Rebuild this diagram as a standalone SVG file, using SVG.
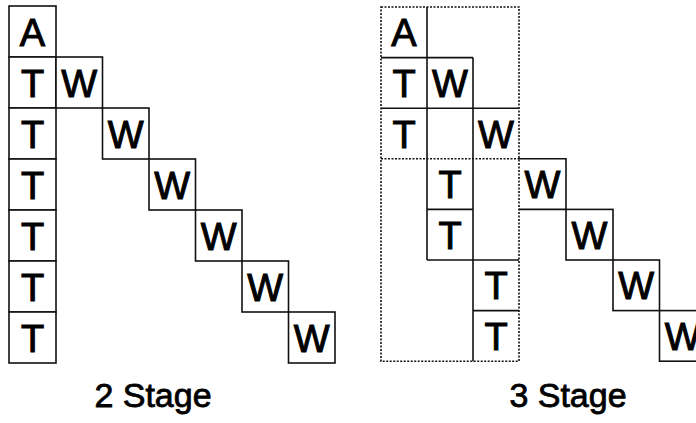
<svg xmlns="http://www.w3.org/2000/svg" width="696" height="423" viewBox="0 0 696 423">
<style>
.c{fill:#fff;stroke:#111;stroke-width:1.6}
.s{fill:none;stroke:#111;stroke-width:1.6}
.d{fill:none;stroke:#111;stroke-width:1.6;stroke-dasharray:2 1.5}
.t{font-family:"Liberation Sans",Arial,sans-serif;font-size:38px;text-anchor:middle;fill:#000;stroke:#000;stroke-width:1}
.l{font-family:"Liberation Sans",Arial,sans-serif;font-size:34px;text-anchor:middle;fill:#000;stroke:#000;stroke-width:0.8}
</style>
<rect width="696" height="423" fill="#fff"/>
<!-- 2 Stage -->
<g id="stage2">
<g id="s2-a"><rect class="c" x="9" y="6" width="47" height="51"/><text class="t" x="32.5" y="46">A</text></g>
<g id="s2-t1"><rect class="c" x="9" y="57" width="47" height="51"/><text class="t" x="32.5" y="97">T</text></g>
<g id="s2-t2"><rect class="c" x="9" y="108" width="47" height="51"/><text class="t" x="32.5" y="148">T</text></g>
<g id="s2-t3"><rect class="c" x="9" y="159" width="47" height="51"/><text class="t" x="32.5" y="199">T</text></g>
<g id="s2-t4"><rect class="c" x="9" y="210" width="47" height="51"/><text class="t" x="32.5" y="250">T</text></g>
<g id="s2-t5"><rect class="c" x="9" y="261" width="47" height="51"/><text class="t" x="32.5" y="301">T</text></g>
<g id="s2-t6"><rect class="c" x="9" y="312" width="47" height="51"/><text class="t" x="32.5" y="352">T</text></g>
<g id="s2-w1"><rect class="c" x="56" y="57" width="46.5" height="51"/><text class="t" x="79.25" y="97">W</text></g>
<g id="s2-w2"><rect class="c" x="102.5" y="108" width="46.5" height="51"/><text class="t" x="125.75" y="148">W</text></g>
<g id="s2-w3"><rect class="c" x="149" y="159" width="46.5" height="51"/><text class="t" x="172.25" y="199">W</text></g>
<g id="s2-w4"><rect class="c" x="195.5" y="210" width="46.5" height="51"/><text class="t" x="218.75" y="250">W</text></g>
<g id="s2-w5"><rect class="c" x="242" y="261" width="46.5" height="51"/><text class="t" x="265.25" y="301">W</text></g>
<g id="s2-w6"><rect class="c" x="288.5" y="312" width="46.5" height="51"/><text class="t" x="311.75" y="352">W</text></g>
<text id="label2" class="l" x="153" y="407">2 Stage</text>
</g>
<!-- 3 Stage -->
<g id="stage3">
<g id="s3-lines">
<rect class="d" x="381" y="7" width="138" height="354.2"/>
<line class="d" x1="381" y1="158.8" x2="519" y2="158.8"/>
<path class="s" d="M427 7V260M473 57.6V361.2M381 57.6H473M381 108.2H519M427 209.4H473M427 260H519M473 310.6H519"/>
</g>
<g id="s3-a"><text class="t" x="404" y="46.3">A</text></g>
<g id="s3-t1"><text class="t" x="404" y="96.9">T</text></g>
<g id="s3-t2"><text class="t" x="404" y="147.5">T</text></g>
<g id="s3-w1"><text class="t" x="450" y="96.9">W</text></g>
<g id="s3-t3"><text class="t" x="450" y="198.1">T</text></g>
<g id="s3-t4"><text class="t" x="450" y="248.7">T</text></g>
<g id="s3-w2"><text class="t" x="496" y="147.5">W</text></g>
<g id="s3-t5"><text class="t" x="496" y="299.3">T</text></g>
<g id="s3-t6"><text class="t" x="496" y="349.9">T</text></g>
<g id="s3-w3"><path class="s" d="M519 158.8H566V209.4H519"/><text class="t" x="542.5" y="198.1">W</text></g>
<g id="s3-w4"><rect class="c" x="566" y="209.4" width="47" height="50.6"/><text class="t" x="589.5" y="248.7">W</text></g>
<g id="s3-w5"><rect class="c" x="613" y="260" width="46.5" height="50.6"/><text class="t" x="636.25" y="299.3">W</text></g>
<g id="s3-w6"><rect class="c" x="659.5" y="310.6" width="46.5" height="50.6"/><text class="t" x="682.75" y="349.9">W</text></g>
<text id="label3" class="l" x="568" y="407">3 Stage</text>
</g>
</svg>
